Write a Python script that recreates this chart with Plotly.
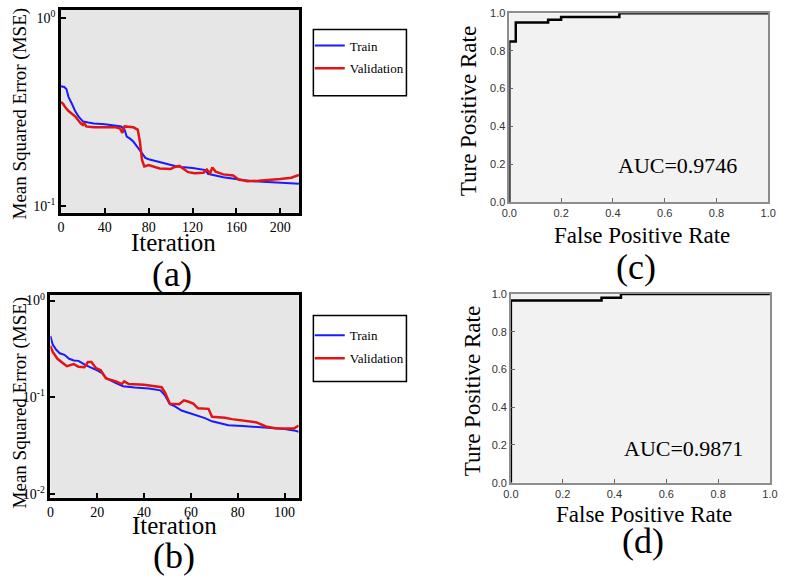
import plotly.graph_objects as go

W, H = 788, 582
SERIF = "Liberation Serif"
SANS = "Liberation Sans"

# ---------------- data ----------------
# panel (a): training curves
iter_a_train = [0, 3, 5, 7, 10, 13, 16, 20, 25, 30, 40, 50, 55, 58, 60, 63, 66, 70, 74, 77, 80, 89, 94, 104,
                110, 120, 132, 134, 148, 160, 166, 175, 185, 195, 205, 217]
mse_a_train = [0.434, 0.43, 0.42, 0.38, 0.35, 0.32, 0.30, 0.282, 0.278, 0.275, 0.272, 0.268, 0.265, 0.255, 0.234,
               0.228, 0.22, 0.205, 0.19, 0.18, 0.177, 0.171, 0.169, 0.163, 0.161, 0.159, 0.155, 0.148, 0.142,
               0.138, 0.137, 0.135, 0.134, 0.133, 0.132, 0.131]
iter_a_val = [0, 2, 4, 7, 10, 13, 16, 18, 20, 21, 23, 30, 40, 50, 54, 56, 58, 62, 66, 70, 72, 74, 76, 80, 85,
              90, 100, 104, 108, 112, 116, 122, 130, 133, 136, 138, 141, 148, 157, 162, 170, 180, 190, 200, 210, 217]
mse_a_val = [0.358, 0.35, 0.335, 0.32, 0.31, 0.30, 0.285, 0.275, 0.27, 0.278, 0.265, 0.262, 0.262, 0.262, 0.258,
             0.245, 0.265, 0.263, 0.262, 0.255, 0.22, 0.175, 0.162, 0.165, 0.162, 0.158, 0.157, 0.161, 0.163,
             0.156, 0.151, 0.149, 0.150, 0.156, 0.149, 0.160, 0.152, 0.147, 0.145, 0.138, 0.135, 0.136, 0.137,
             0.139, 0.141, 0.146]

# panel (b): training curves
iter_b_train = [0, 1, 2.5, 4, 6, 8, 10, 12, 15, 18, 20, 22, 24, 28, 31, 36, 42, 47, 49, 51, 53, 56, 60, 63, 66,
                69, 72, 76, 82, 90, 95, 100, 104, 106]
mse_b_train = [0.43, 0.35, 0.31, 0.285, 0.275, 0.25, 0.24, 0.238, 0.215, 0.20, 0.19, 0.178, 0.157, 0.14, 0.13,
               0.126, 0.123, 0.118, 0.104, 0.085, 0.081, 0.073, 0.068, 0.064, 0.061, 0.0565, 0.054, 0.0515,
               0.0505, 0.049, 0.0475, 0.047, 0.0455, 0.044]
iter_b_val = [0, 1, 3, 5, 7, 10, 12, 14.5, 16, 17.5, 19.5, 21.5, 23.7, 28, 30.5, 31.5, 33.5, 40, 46, 47.5, 49,
              51, 55, 57, 59, 61, 63, 67.5, 69, 74.5, 77.5, 82, 88, 92, 96, 100, 104, 106]
mse_b_val = [0.34, 0.295, 0.25, 0.228, 0.21, 0.22, 0.207, 0.205, 0.232, 0.232, 0.20, 0.19, 0.157, 0.146, 0.137,
             0.146, 0.137, 0.135, 0.13, 0.127, 0.111, 0.086, 0.085, 0.093, 0.09, 0.086, 0.077, 0.076, 0.063,
             0.0615, 0.0595, 0.0575, 0.055, 0.05, 0.048, 0.0475, 0.0475, 0.051]

# panel (c) / (d): ROC curves
fpr_c = [0, 0, 0.025, 0.025, 0.15, 0.15, 0.2, 0.2, 0.425, 0.425, 1.0]
tpr_c = [0, 0.85, 0.85, 0.95, 0.95, 0.965, 0.965, 0.98, 0.98, 1.0, 1.0]
fpr_d = [0, 0, 0.35, 0.35, 0.425, 0.425, 1.0]
tpr_d = [0, 0.965, 0.965, 0.98, 0.98, 1.0, 1.0]
auc_c = "AUC=0.9746"
auc_d = "AUC=0.9871"

# ticks
xtick_a = [0, 40, 80, 120, 160, 200]
xtick_b = [0, 20, 40, 60, 80, 100]
ytick_a = [0.1, 1]
ytext_a = ["10<sup>-1</sup>", "10<sup>0</sup>"]
ytick_b = [0.01, 0.1, 1]
ytext_b = ["10<sup>-2</sup>", "10<sup>-1</sup>", "10<sup>0</sup>"]
roc_ticks = [0, 0.2, 0.4, 0.6, 0.8, 1.0]
roc_text = ["0.0", "0.2", "0.4", "0.6", "0.8", "1.0"]

BLUE = "#1a1aff"
RED = "#e01515"


def px(x):
    return x / W


def py(y):
    return 1 - y / H


fig = go.Figure()
fig.add_trace(go.Scatter(x=iter_a_train, y=mse_a_train, name="Train", mode="lines", legendgroup="at",
                         line=dict(color=BLUE, width=2), xaxis="x", yaxis="y", legend="legend"))
fig.add_trace(go.Scatter(x=iter_a_val, y=mse_a_val, name="Validation", mode="lines", legendgroup="av",
                         line=dict(color=RED, width=2.5), xaxis="x", yaxis="y", legend="legend"))
fig.add_trace(go.Scatter(x=iter_b_train, y=mse_b_train, name="Train", mode="lines", legendgroup="bt",
                         line=dict(color=BLUE, width=2), xaxis="x2", yaxis="y2", legend="legend2"))
fig.add_trace(go.Scatter(x=iter_b_val, y=mse_b_val, name="Validation", mode="lines", legendgroup="bv",
                         line=dict(color=RED, width=2.5), xaxis="x2", yaxis="y2", legend="legend2"))
fig.add_trace(go.Scatter(x=fpr_c, y=tpr_c, mode="lines", showlegend=False,
                         line=dict(color="black", width=2.5), xaxis="x3", yaxis="y3"))
fig.add_trace(go.Scatter(x=fpr_d, y=tpr_d, mode="lines", showlegend=False,
                         line=dict(color="black", width=2.5), xaxis="x4", yaxis="y4"))

mse_ax = dict(showline=True, linecolor="black", linewidth=2.5, mirror=True, ticks="inside", ticklen=5,
              tickwidth=2, tickcolor="black", showgrid=False, zeroline=False,
              tickfont=dict(family=SERIF, size=14, color="black"))
roc_ax = dict(showline=True, linecolor="#8c8c8c", linewidth=1.5, mirror=True, ticks="inside", ticklen=4,
              tickwidth=1, tickcolor="#666666", showgrid=False, zeroline=False, range=[0, 1],
              tickvals=roc_ticks, ticktext=roc_text,
              tickfont=dict(family=SANS, size=11, color="#333333"))

leg_common = dict(xanchor="left", yanchor="top", bgcolor="rgba(0,0,0,0)", borderwidth=0,
                  font=dict(family=SERIF, size=13, color="black"), traceorder="grouped", tracegroupgap=3)

fig.update_layout(
    width=W, height=H, margin=dict(l=0, r=0, t=0, b=0),
    paper_bgcolor="white", plot_bgcolor="white",
    xaxis=dict(mse_ax, domain=[px(54), px(297)], range=[0, 217], tickvals=xtick_a, anchor="y"),
    yaxis=dict(mse_ax, domain=[py(211), py(4)], type="log", range=[-1.037, 0.045],
               tickvals=ytick_a, ticktext=ytext_a, anchor="x"),
    xaxis2=dict(mse_ax, domain=[px(43.3), px(296.7)], range=[0, 106], tickvals=xtick_b, anchor="y2"),
    yaxis2=dict(mse_ax, domain=[py(502), py(295)], type="log", range=[-2.037, 0.058],
                tickvals=ytick_b, ticktext=ytext_b, anchor="x2"),
    xaxis3=dict(roc_ax, domain=[px(511.7), px(776)], anchor="y3"),
    yaxis3=dict(roc_ax, domain=[py(200), py(7.3)], anchor="x3"),
    xaxis4=dict(roc_ax, domain=[px(513.3), px(777.7)], anchor="y4"),
    yaxis4=dict(roc_ax, domain=[py(486.7), py(294)], anchor="x4"),
    legend=dict(leg_common, x=px(308), y=py(25)),
    legend2=dict(leg_common, x=px(308), y=py(321)),
    showlegend=True,
)

shapes = []
for xr, yr, col in [("x", "y", "#e6e6e6"), ("x2", "y2", "#e6e6e6"), ("x3", "y3", "#f2f2f2"), ("x4", "y4", "#f2f2f2")]:
    shapes.append(dict(type="rect", xref=xr + " domain", yref=yr + " domain", x0=0, x1=1, y0=0, y1=1,
                       fillcolor=col, line=dict(width=0), layer="below"))
# legend boxes
shapes.append(dict(type="rect", xref="paper", yref="paper", x0=px(311.7), x1=px(406.7), y0=py(91.7), y1=py(24),
                   line=dict(color="black", width=1.5), fillcolor="rgba(0,0,0,0)"))
shapes.append(dict(type="rect", xref="paper", yref="paper", x0=px(311.7), x1=px(406.7), y0=py(383.3), y1=py(316),
                   line=dict(color="black", width=1.5), fillcolor="rgba(0,0,0,0)"))
fig.update_layout(shapes=shapes)


def note(text, x, y, size, family=SERIF, angle=0, color="black"):
    fig.add_annotation(text=text, x=px(x), y=py(y), xref="paper", yref="paper", showarrow=False,
                       xanchor="center", yanchor="middle", textangle=angle,
                       font=dict(family=family, size=size, color=color))


note("Mean Squared Error (MSE)", 12, 110, 19, angle=-90)
note("Iteration", 169, 241, 25)
note("(a)", 167, 274, 36)
note("Mean Squared Error (MSE)", 12, 405, 19, angle=-90)
note("Iteration", 170, 530, 25)
note("(b)", 169, 562, 36)
note("Ture Positive Rate", 470, 107, 23, angle=-90)
note("False Positive Rate", 647, 234, 23)
note("(c)", 641, 266, 36)
note("Ture Positive Rate", 475, 393, 23, angle=-90)
note("False Positive Rate", 649, 519, 23)
note("(d)", 648, 546, 36)

fig.add_annotation(text=auc_c, x=0.65, y=0.194, xref="x3", yref="y3", showarrow=False,
                   xanchor="center", yanchor="middle", font=dict(family=SERIF, size=22, color="black"))
fig.add_annotation(text=auc_d, x=0.665, y=0.18, xref="x4", yref="y4", showarrow=False,
                   xanchor="center", yanchor="middle", font=dict(family=SERIF, size=22, color="black"))

fig.write_html("out.html", config={"displayModeBar": False},
               post_script="document.body.style.margin='0px';")
